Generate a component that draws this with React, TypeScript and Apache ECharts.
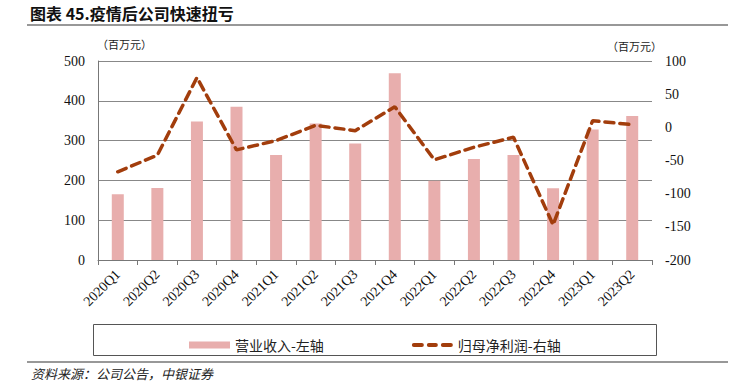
import React, { useEffect, useRef } from "react";
import * as echarts from "echarts";

const categories = ["2020Q1","2020Q2","2020Q3","2020Q4","2021Q1","2021Q2","2021Q3","2021Q4","2022Q1","2022Q2","2022Q3","2022Q4","2023Q1","2023Q2"];
const revenue = [165, 181, 348, 385, 264, 343, 293, 469, 199, 254, 264, 180, 328, 362];
const netProfit = [-67, -42, 75, -34, -20, 3, -5, 31, -49, -30, -15, -147, 10, 4];
const leftTicks = { min: 0, max: 500, interval: 100 };
const rightTicks = { min: -200, max: 100, interval: 50 };

const SERIF = "'Liberation Serif', 'Noto Sans CJK SC', serif";
const CJK = "'Noto Sans CJK SC', sans-serif";

export default function App() {
  const ref = useRef<HTMLDivElement>(null);
  useEffect(() => {
    document.body.style.margin = "0";
    if (!ref.current) return;
    const chart = echarts.init(ref.current, null, { renderer: "svg" });
    chart.setOption({
      animation: false,
      backgroundColor: "#fff",
      grid: { left: 98, right: 80, top: 61, bottom: 126 },
      legend: {
        left: 184,
        top: 333,
        itemWidth: 41,
        itemHeight: 7,
        itemGap: 88,
        symbolKeepAspect: true,
        textStyle: { fontFamily: CJK, fontSize: 14, color: "#222" },
        data: [
          { name: "营业收入-左轴", icon: "rect" },
          { name: "归母净利润-右轴", icon: "path://M2,0H10A2,2 0 0 1 10,4H2A2,2 0 0 1 2,0Z M17,0H24A2,2 0 0 1 24,4H17A2,2 0 0 1 17,0Z M31,0H39A2,2 0 0 1 39,4H31A2,2 0 0 1 31,0Z" },
        ],
      },
      xAxis: {
        type: "category",
        data: categories,
        axisLine: { lineStyle: { color: "#777", width: 1 } },
        axisTick: { show: true, length: 5, lineStyle: { color: "#777" } },
        axisLabel: { rotate: 45, margin: 12, fontFamily: SERIF, fontSize: 14, color: "#111", interval: 0 },
      },
      yAxis: [
        {
          type: "value",
          min: leftTicks.min,
          max: leftTicks.max,
          interval: leftTicks.interval,
          axisLine: { show: true, lineStyle: { color: "#777" } },
          axisTick: { show: false },
          splitLine: { lineStyle: { color: "#888", width: 1 } },
          axisLabel: { margin: 13, fontFamily: SERIF, fontSize: 14, color: "#111" },
        },
        {
          type: "value",
          min: rightTicks.min,
          max: rightTicks.max,
          interval: rightTicks.interval,
          axisLine: { show: false },
          axisTick: { show: false },
          splitLine: { show: false },
          axisLabel: { margin: 13, fontFamily: SERIF, fontSize: 14, color: "#111" },
        },
      ],
      series: [
        {
          name: "营业收入-左轴",
          type: "bar",
          data: revenue,
          barWidth: 12,
          itemStyle: { color: "#E8AEAD" },
          yAxisIndex: 0,
        },
        {
          name: "归母净利润-右轴",
          type: "line",
          data: netProfit,
          yAxisIndex: 1,
          symbol: "none",
          showSymbol: false,
          lineStyle: { color: "#A23D0C", width: 3.5, type: [9, 6], cap: "round" },
          itemStyle: { color: "#A23D0C" },
        },
      ],
      graphic: [
        {
          type: "text",
          left: 30,
          top: 5,
          style: { text: "图表 45.疫情后公司快速扭亏", font: "bold 16px 'Noto Sans CJK SC', sans-serif", fill: "#111" },
        },
        { type: "line", shape: { x1: 27, y1: 25, x2: 728, y2: 25 }, style: { stroke: "#333", lineWidth: 1.2 } },
        {
          type: "text",
          x: 97,
          y: 44,
          style: { text: "（百万元）", font: "11px 'Noto Sans CJK SC', sans-serif", fill: "#222", verticalAlign: "middle" },
        },
        {
          type: "text",
          x: 607,
          y: 46,
          style: { text: "（百万元）", font: "11px 'Noto Sans CJK SC', sans-serif", fill: "#222", verticalAlign: "middle" },
        },
        { type: "rect", shape: { x: 93.5, y: 324.5, width: 563, height: 31 }, style: { fill: "none", stroke: "#555", lineWidth: 1 } },
        { type: "line", shape: { x1: 27, y1: 362, x2: 728, y2: 362 }, style: { stroke: "#333", lineWidth: 1.2 } },
        {
          type: "text",
          x: 31,
          y: 373,
          style: { text: "资料来源：公司公告，中银证券", font: "italic 13px 'Noto Sans CJK SC', sans-serif", fill: "#222", verticalAlign: "middle" },
        },
      ],
    });
    return () => chart.dispose();
  }, []);
  return <div ref={ref} style={{ width: 732, height: 386 }} />;
}
